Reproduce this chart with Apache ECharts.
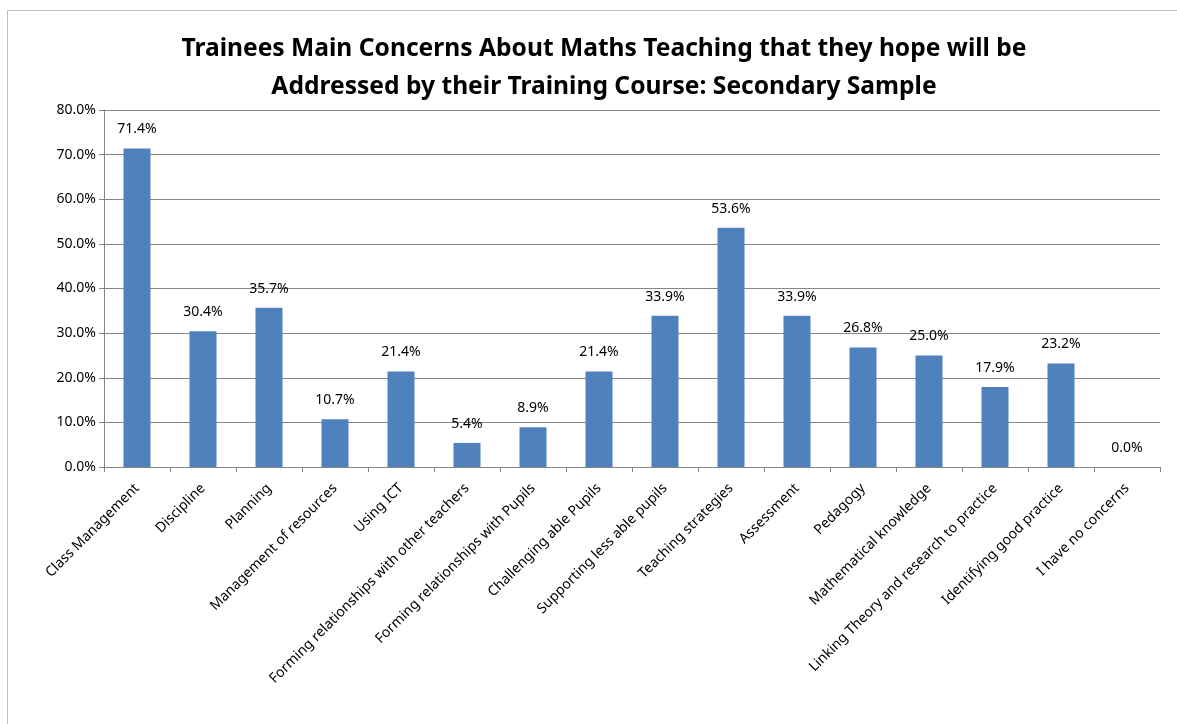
<!DOCTYPE html>
<html>
<head>
<meta charset="utf-8">
<script src="https://cdn.jsdelivr.net/npm/echarts@6/dist/echarts.min.js"></script>
<style>
	html, body { margin: 0; padding: 0; background: #fff; }
	#chart { width: 1177px; height: 724px; }
</style>
</head>
<body>
<div id="chart"></div>
<script>
var myChart = echarts.init(document.getElementById('chart'));

// categories on the x axis
var concerns = ['Class Management', 'Discipline', 'Planning', 'Management of resources',
	'Using ICT', 'Forming relationships with other teachers', 'Forming relationships with Pupils',
	'Challenging able Pupils', 'Supporting less able pupils', 'Teaching strategies', 'Assessment',
	'Pedagogy', 'Mathematical knowledge', 'Linking Theory and research to practice',
	'Identifying good practice', 'I have no concerns'];
// percent of trainees
var percents = [71.4, 30.4, 35.7, 10.7, 21.4, 5.4, 8.9, 21.4, 33.9, 53.6, 33.9, 26.8, 25.0, 17.9, 23.2, 0.0];
var titleLines = ['Trainees Main Concerns About Maths Teaching that they hope will be',
	'Addressed by their Training Course: Secondary Sample'];

var font = 'Noto Sans';

var option = {
	backgroundColor: '#fff',
	animation: false,
	title: {
		text: titleLines.join('\n'),
		left: 599,
		top: 25,
		textAlign: 'center',
		textStyle: {
			fontFamily: font,
			fontSize: 24.6,
			fontWeight: 'bold',
			color: '#000',
			lineHeight: 38
		}
	},
	// outer chart border (only left + top visible in the picture)
	graphic: [{
		type: 'rect',
		shape: { x: 7.5, y: 10.5, width: 1300, height: 900 },
		style: { fill: 'none', stroke: '#bfbfbf', lineWidth: 1 },
		silent: true
	}],
	grid: {
		left: 104,
		right: 17,
		top: 110,
		bottom: 257
	},
	xAxis: {
		type: 'category',
		data: concerns,
		axisLine: { lineStyle: { color: '#868686', width: 1 } },
		axisTick: { show: true, length: 5, alignWithLabel: false, lineStyle: { color: '#868686' } },
		axisLabel: {
			interval: 0,
			rotate: 45,
			margin: 19,
			fontFamily: font,
			fontSize: 14,
			color: '#000'
		}
	},
	yAxis: {
		type: 'value',
		min: 0,
		max: 80,
		interval: 10,
		axisLine: { show: true, lineStyle: { color: '#868686' } },
		axisTick: { show: true, length: 5, lineStyle: { color: '#868686' } },
		splitLine: { lineStyle: { color: '#868686', width: 1 } },
		axisLabel: {
			margin: 8,
			fontFamily: font,
			fontSize: 14,
			color: '#000',
			formatter: function(v) { return v.toFixed(1) + '%'; }
		}
	},
	series: [{
		type: 'bar',
		data: percents,
		barWidth: 27,
		itemStyle: { color: '#4f81bd' },
		label: {
			show: true,
			position: 'top',
			distance: 12,
			fontFamily: font,
			fontSize: 14,
			color: '#000',
			formatter: function(p) { return p.value.toFixed(1) + '%'; }
		}
	}]
};

myChart.setOption(option);
</script>
</body>
</html>
